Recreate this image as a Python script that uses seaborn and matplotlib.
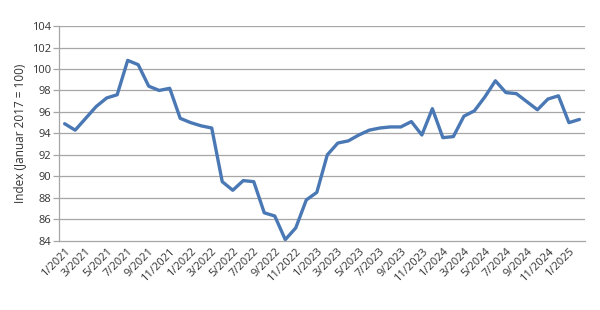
import matplotlib
matplotlib.use("Agg")
import matplotlib.pyplot as plt
import seaborn as sns
import pandas as pd
import numpy as np

months = [f"{m}/{y}" for y in range(2021, 2026) for m in range(1, 13)][:50]
values = [94.9, 94.3, 95.4, 96.5, 97.3, 97.6, 100.8, 100.4, 98.4, 98.0,
          98.2, 95.4, 95.0, 94.7, 94.5, 89.5, 88.7, 89.6, 89.5, 86.6,
          86.3, 84.1, 85.2, 87.8, 88.5, 92.0, 93.1, 93.3, 93.85, 94.3,
          94.5, 94.6, 94.6, 95.1, 93.85, 96.3, 93.6, 93.7, 95.6, 96.1,
          97.4, 98.9, 97.8, 97.7, 96.95, 96.2, 97.2, 97.5, 95.0, 95.3]
y_ticks = [84, 86, 88, 90, 92, 94, 96, 98, 100, 102, 104]
y_label = "Index (Januar 2017 = 100)"

df = pd.DataFrame({"pos": np.arange(len(months)), "month": months, "value": values})

sns.set_theme(style="white")
plt.rcParams["font.family"] = ["Open Sans", "DejaVu Sans"]

fig = plt.figure(figsize=(6, 3.1), dpi=100)
ax = fig.add_axes([0.099, 0.2235, 0.8755, 0.6925])

sns.lineplot(data=df, x="pos", y="value", ax=ax, color="#4a78b4", linewidth=2.4)

ax.set_xlim(-0.5, len(months) - 0.5)
ax.set_ylim(84, 104)
ax.set_yticks(y_ticks)
ax.set_yticklabels([str(t) for t in y_ticks], fontsize=8, color="#333333")
for t in y_ticks[1:]:
    ax.axhline(t, color="#a6a6a6", linewidth=0.9, zorder=0)

major = df["pos"][::2].tolist()
ax.set_xticks(major)
ax.set_xticklabels(df["month"][::2].tolist(), rotation=45, ha="right",
                   rotation_mode="anchor", fontsize=8, color="#333333")
ax.tick_params(axis="x", which="major", length=0, pad=4)
ax.set_xticks(np.arange(-0.5, len(months)), minor=True)
ax.tick_params(axis="x", which="minor", length=4, color="#a6a6a6", width=0.9, direction="out")
ax.tick_params(axis="y", length=4, color="#a6a6a6", width=0.9, direction="out", left=True, pad=2)

for s in ["top", "right"]:
    ax.spines[s].set_visible(False)
for s in ["left", "bottom"]:
    ax.spines[s].set_color("#a6a6a6")
    ax.spines[s].set_linewidth(0.9)

ax.set_xlabel("")
ax.set_ylabel(y_label, fontsize=8.5, color="#333333")
ax.grid(False)

fig.savefig("out.png", dpi=100)
